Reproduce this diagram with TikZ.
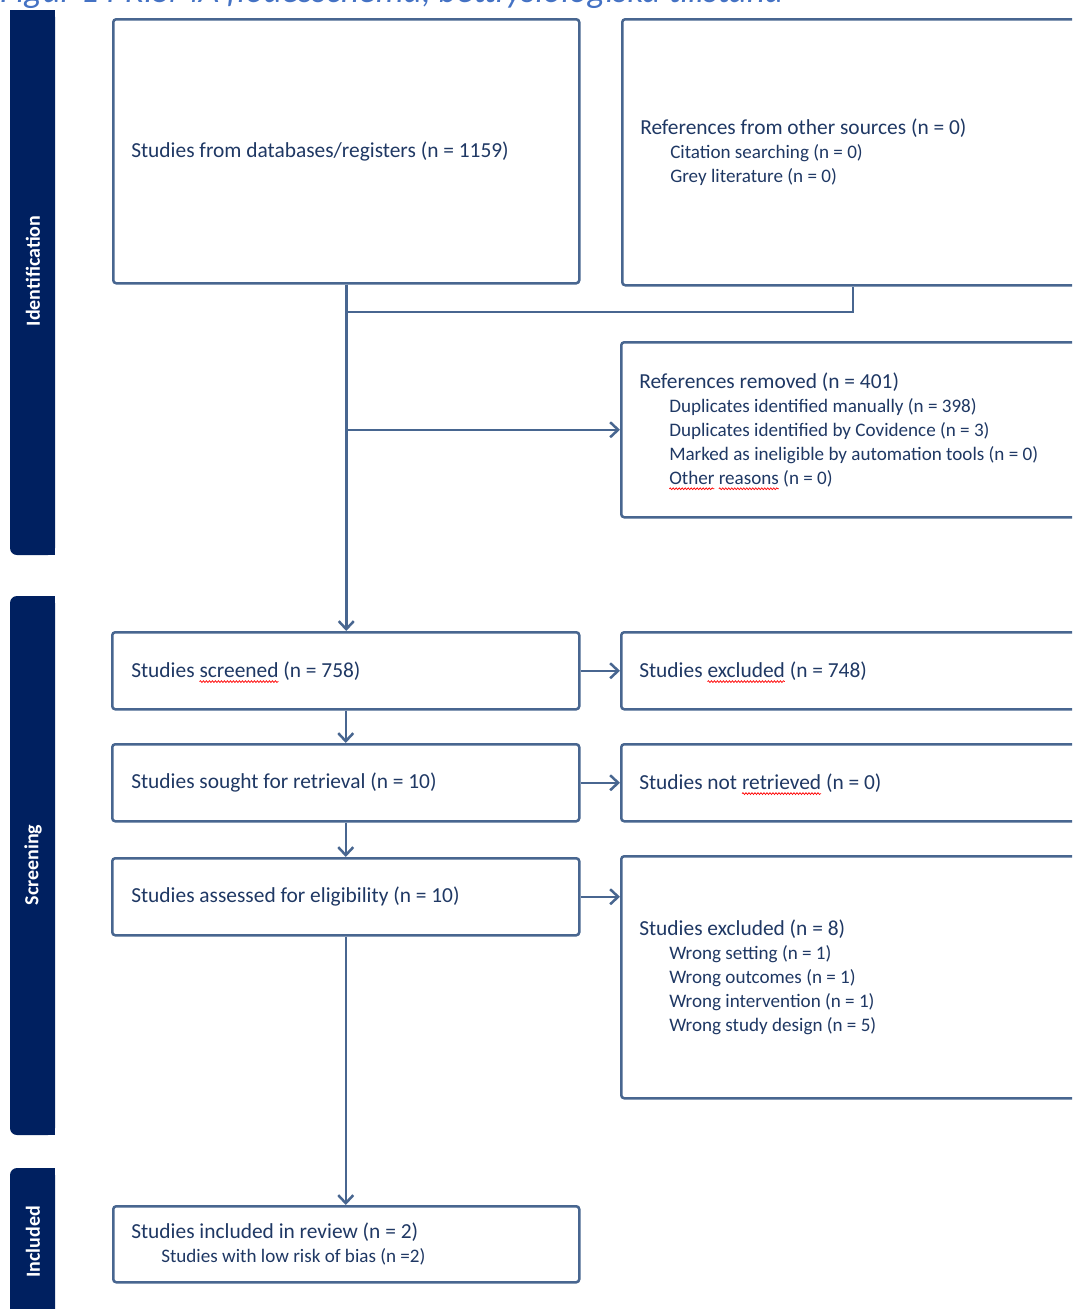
\documentclass[tikz,border=0pt]{standalone}
\usepackage{fontspec}
\setmainfont{Carlito}
\usetikzlibrary{arrows.meta,decorations.pathmorphing}
\definecolor{bordercol}{RGB}{72,102,144}
\definecolor{textcol}{RGB}{31,56,100}
\definecolor{barcol}{RGB}{0,32,96}
\definecolor{titleblue}{RGB}{68,114,196}
\newsavebox\sqbox
\newcommand\squig[1]{\sbox\sqbox{#1}\rlap{\tikz[overlay,baseline=0pt]\draw[red, line width=0.7pt, sharp corners, decorate, decoration={snake,amplitude=0.9pt,segment length=3pt}] (0pt,-4.5pt) -- (\wd\sqbox,-4.5pt);}\usebox\sqbox}
\newcommand\mainsz{\fontsize{21.4}{24}\selectfont}
\newcommand\subsz{\fontsize{19.1}{24}\selectfont}
\newcommand\subline[1]{\hspace*{30pt}{\subsz #1}}
\tikzset{
  x=1pt, y=-1pt,
  flowbox/.style={draw=bordercol, line width=2.5pt, rounded corners=3pt, fill=white,
    align=flush left, anchor=north west, inner xsep=18pt, inner ysep=0pt,
    text=textcol, font=\mainsz},
  conn/.style={draw=bordercol, line width=2.5pt},
  arr/.style={conn, -{Straight Barb[length=8pt,width=15pt]}},
  barlabel/.style={rotate=90, text=white, font=\fontsize{20}{22}\selectfont\bfseries, inner sep=0pt}
}
\begin{document}
\begin{tikzpicture}
\useasboundingbox (0,0) rectangle (1072,1309);
\clip (0,0) rectangle (1072,1309);
\fill[white] (0,0) rectangle (1072,1309);
% title (cut off at top)
\node[anchor=base west, inner sep=0pt, text=titleblue] (title) at (0,2)
  {\resizebox{783pt}{!}{\itshape Figur 1 PRISMA flödesschema, bettfysiologiska tillstånd}};
% side bars
\fill[barcol, rounded corners=7pt] (10,10) rectangle (55,555);
\fill[barcol] (10,10) rectangle (55,40);
\fill[barcol] (35,10) rectangle (55,555);
\fill[barcol, rounded corners=7pt] (10,596) rectangle (55,1135);
\fill[barcol] (35,596) rectangle (55,1135);
\fill[barcol, rounded corners=7pt] (10,1168) rectangle (55,1330);
\fill[barcol] (35,1168) rectangle (55,1330);
\node[barlabel] (lid) at (33,271) {Identification};
\node[barlabel] (lsc) at (33,865) {Screening};
\node[barlabel] (lin) at (33,1242) {Included};
% boxes
\node[flowbox, text width=430pt, minimum height=264pt] (A) at (112,18)
  {Studies from databases/registers (n = 1159)};
\node[flowbox, text width=444pt, minimum height=266pt] (B) at (621,18)
  {References from other sources (n = 0)\\
   \subline{Citation searching (n = 0)}\\
   \subline{Grey literature (n = 0)}};
\node[flowbox, text width=444pt, minimum height=175pt] (C) at (620,341)
  {References removed (n = 401)\\
   \subline{Duplicates identified manually (n = 398)}\\
   \subline{Duplicates identified by Covidence (n = 3)}\\
   \subline{Marked as ineligible by automation tools (n = 0)}\\
   \subline{\squig{Other} \squig{reasons} (n = 0)}};
\node[flowbox, text width=429pt, inner xsep=19pt, minimum height=77pt] (D) at (111,631)
  {Studies \squig{screened} (n = 758)};
\node[flowbox, text width=444pt, minimum height=77pt] (E) at (620,631)
  {Studies \squig{excluded} (n = 748)};
\node[flowbox, text width=429pt, inner xsep=19pt, minimum height=77pt] (F) at (111,743)
  {Studies sought for retrieval (n = 10)};
\node[flowbox, text width=444pt, minimum height=77pt] (G) at (620,743)
  {Studies not \squig{retrieved} (n = 0)};
\node[flowbox, text width=429pt, inner xsep=19pt, minimum height=77pt] (H) at (111,857)
  {Studies assessed for eligibility (n = 10)};
\node[flowbox, text width=444pt, minimum height=242pt] (I) at (620,855)
  {Studies excluded (n = 8)\\
   \subline{Wrong setting (n = 1)}\\
   \subline{Wrong outcomes (n = 1)}\\
   \subline{Wrong intervention (n = 1)}\\
   \subline{Wrong study design (n = 5)}};
\node[flowbox, text width=430pt, minimum height=76pt] (J) at (112,1205)
  {Studies included in review (n = 2)\\
   \subline{Studies with low risk of bias (n =2)}};
% connectors
\coordinate (bj) at (853,312);
\draw[conn] (A.south) |- (bj) -- (bj |- B.south);
\draw[arr] (A.south) -- (A.south |- D.north);
\draw[arr] (A.south |- C.west) -- (C.west);
\draw[arr] (D.east) -- (E.west);
\draw[arr] (F.east) -- (G.west);
\draw[arr] (H.east) -- (H.east -| I.west);
\draw[arr] (D.south) -- (F.north);
\draw[arr] (F.south) -- (H.north);
\draw[arr] (H.south) -- (H.south |- J.north);
\end{tikzpicture}
\end{document}
